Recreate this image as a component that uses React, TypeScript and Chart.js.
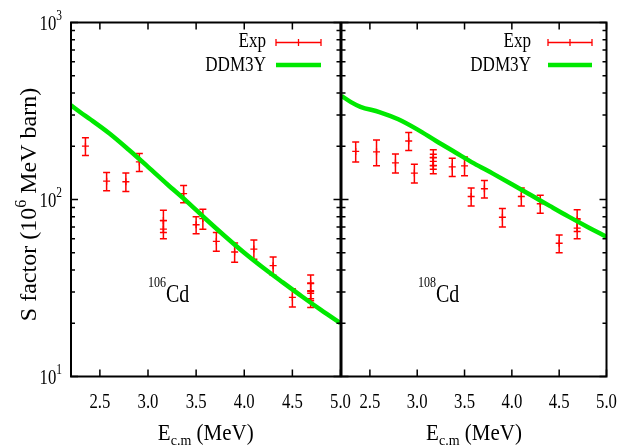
import { useEffect, useRef } from "react";
import { Chart, registerables } from "chart.js";

Chart.register(...registerables);

// ---------- data ----------
const energy106 = [2.35, 2.57, 2.77, 2.91, 3.16, 3.16, 3.37, 3.5, 3.57, 3.71, 3.9, 4.1, 4.3, 4.5, 4.69, 4.69, 4.69];
const sFactor106 = [200, 127, 126, 163, 76, 68, 108, 72, 78, 58, 50.5, 52.5, 42.3, 28, 33.5, 30.3, 27.5];
const error106 = [23, 15, 15, 19, 11, 8, 12, 8, 10, 7, 6.3, 6.5, 5, 3.3, 4, 3.5, 3];

const energy108 = [2.35, 2.57, 2.77, 2.91, 2.97, 3.17, 3.17, 3.17, 3.37, 3.5, 3.57, 3.71, 3.9, 4.1, 4.3, 4.5, 4.69, 4.69];
const sFactor108 = [187, 186, 161, 214, 141, 173, 164, 156, 153, 155, 104, 115, 79.4, 104, 94.6, 56.6, 76.7, 68.9];
const error108 = [24, 31, 20, 25, 17, 18, 16, 16, 18, 19, 12, 13, 9.5, 12, 11, 6.5, 10.8, 8.9];

const curveEnergy = [2.2, 2.3, 2.4, 2.6, 2.8, 3.0, 3.2, 3.4, 3.6, 3.8, 4.0, 4.2, 4.4, 4.6, 4.8, 5.0];
const ddm3y106 = [340, 310, 284, 236, 191, 153, 122, 98, 77.6, 62, 50, 41, 34, 28.3, 23.7, 20];
const ddm3y108 = [385, 355, 334, 312, 284, 249, 214, 185, 160, 140, 122, 106, 92, 80, 70, 61.6];

const xTickValues = [2.5, 3.0, 3.5, 4.0, 4.5, 5.0];
const yMajorTicks = [10, 100, 1000];
const yMajorExponents = ["1", "2", "3"];
const yMinorTicks = [20, 30, 40, 50, 60, 70, 80, 90, 200, 300, 400, 500, 600, 700, 800, 900];

const X_MIN = 2.2;
const X_MAX = 5.0;
const Y_MIN = 10;
const Y_MAX = 1000;

const FONT = '"Liberation Serif", "Times New Roman", Times, serif';
const RED = "#ff0000";
const GREEN = "#00e800";

type Seg = { t: string; size: number; dy?: number };

function drawRich(
  ctx: CanvasRenderingContext2D,
  segs: Seg[],
  x: number,
  y: number,
  align: "left" | "center" | "right",
  sx = 1,
  sy = 1,
  rot = 0
) {
  ctx.save();
  ctx.translate(x, y);
  if (rot) ctx.rotate(rot);
  ctx.scale(sx, sy);
  ctx.textAlign = "left";
  ctx.textBaseline = "alphabetic";
  ctx.fillStyle = "#000";
  let total = 0;
  const widths = segs.map((s) => {
    ctx.font = `${s.size}px ${FONT}`;
    const w = ctx.measureText(s.t).width;
    total += w;
    return w;
  });
  let cx = align === "left" ? 0 : align === "center" ? -total / 2 : -total;
  segs.forEach((s, i) => {
    ctx.font = `${s.size}px ${FONT}`;
    ctx.fillText(s.t, cx, s.dy || 0);
    cx += widths[i];
  });
  ctx.restore();
}

type PanelCfg = {
  left: number;
  right: number;
  energy: number[];
  sFactor: number[];
  error: number[];
  curve: number[];
  isotope: string;
  isoX: number;
  legendTextRight: number;
  legendStart: number;
  legendEnd: number;
  showYLabels: boolean;
};

const TOP = 22.5;
const BOTTOM = 376.5;

const leftCfg: PanelCfg = {
  left: 71,
  right: 340.5,
  energy: energy106,
  sFactor: sFactor106,
  error: error106,
  curve: ddm3y106,
  isotope: "106",
  isoX: 148,
  legendTextRight: 266,
  legendStart: 276,
  legendEnd: 321,
  showYLabels: true,
};

const rightCfg: PanelCfg = {
  left: 341.5,
  right: 606.5,
  energy: energy108,
  sFactor: sFactor108,
  error: error108,
  curve: ddm3y108,
  isotope: "108",
  isoX: 418,
  legendTextRight: 531,
  legendStart: 548,
  legendEnd: 592,
  showYLabels: false,
};

function makePlugin(cfg: PanelCfg) {
  return {
    id: "panelDecor",
    beforeDatasetsDraw(chart: any) {
      const ctx: CanvasRenderingContext2D = chart.ctx;
      const xs = chart.scales.x;
      const ys = chart.scales.y;
      const ca = chart.chartArea;
      ctx.save();
      ctx.beginPath();
      ctx.rect(ca.left, ca.top, ca.right - ca.left, ca.bottom - ca.top);
      ctx.clip();
      ctx.strokeStyle = RED;
      ctx.lineWidth = 1.5;
      const data = chart.data.datasets[1].data as any[];
      data.forEach((d) => {
        const px = xs.getPixelForValue(d.x);
        const top = ys.getPixelForValue(d.y + d.err);
        const bot = ys.getPixelForValue(d.y - d.err);
        ctx.beginPath();
        ctx.moveTo(px, top);
        ctx.lineTo(px, bot);
        ctx.moveTo(px - 3.5, top);
        ctx.lineTo(px + 3.5, top);
        ctx.moveTo(px - 3.5, bot);
        ctx.lineTo(px + 3.5, bot);
        ctx.stroke();
      });
      ctx.restore();
    },
    afterDraw(chart: any) {
      const ctx: CanvasRenderingContext2D = chart.ctx;
      const xs = chart.scales.x;
      const ys = chart.scales.y;
      const ca = chart.chartArea;
      ctx.save();
      // ticks
      ctx.strokeStyle = "#000";
      ctx.lineWidth = 1.5;
      ctx.beginPath();
      xTickValues.forEach((v) => {
        const px = xs.getPixelForValue(v);
        ctx.moveTo(px, ca.bottom);
        ctx.lineTo(px, ca.bottom - 7);
        ctx.moveTo(px, ca.top);
        ctx.lineTo(px, ca.top + 7);
      });
      yMajorTicks.forEach((v) => {
        const py = ys.getPixelForValue(v);
        ctx.moveTo(ca.left, py);
        ctx.lineTo(ca.left + 7, py);
        ctx.moveTo(ca.right, py);
        ctx.lineTo(ca.right - 7, py);
      });
      yMinorTicks.forEach((v) => {
        const py = ys.getPixelForValue(v);
        ctx.moveTo(ca.left, py);
        ctx.lineTo(ca.left + 4, py);
        ctx.moveTo(ca.right, py);
        ctx.lineTo(ca.right - 4, py);
      });
      ctx.stroke();
      // frame
      ctx.lineWidth = 2;
      ctx.strokeRect(ca.left, ca.top, ca.right - ca.left, ca.bottom - ca.top);
      ctx.restore();

      // x tick labels
      xTickValues.forEach((v) => {
        const px = xs.getPixelForValue(v);
        drawRich(ctx, [{ t: v.toFixed(1), size: 22 }], px, 408, "center", 0.76);
      });
      // y tick labels
      if (cfg.showYLabels) {
        yMajorTicks.forEach((v, i) => {
          const py = ys.getPixelForValue(v);
          drawRich(
            ctx,
            [
              { t: "10", size: 22 },
              { t: yMajorExponents[i], size: 15, dy: -10 },
            ],
            62,
            py + 7.5,
            "right",
            0.76
          );
        });
        drawRich(
          ctx,
          [
            { t: "S factor (10", size: 24 },
            { t: "6", size: 16, dy: -10 },
            { t: " MeV barn)", size: 24 },
          ],
          36,
          (ca.top + ca.bottom) / 2 + 5,
          "center",
          1,
          1,
          -Math.PI / 2
        );
      }
      // x title
      drawRich(
        ctx,
        [
          { t: "E", size: 21 },
          { t: "c.m", size: 14, dy: 5 },
          { t: " (MeV)", size: 21 },
        ],
        (ca.left + ca.right) / 2,
        440,
        "center",
        1,
        1.08
      );
      // isotope label
      drawRich(
        ctx,
        [
          { t: cfg.isotope, size: 15, dy: -15 },
          { t: "Cd", size: 25 },
        ],
        cfg.isoX,
        302,
        "left",
        0.8
      );
      // legend
      drawRich(ctx, [{ t: "Exp", size: 19 }], cfg.legendTextRight, 47, "right", 0.9, 1.05);
      drawRich(ctx, [{ t: "DDM3Y", size: 19 }], cfg.legendTextRight, 71, "right", 0.9, 1.05);
      ctx.save();
      ctx.strokeStyle = RED;
      ctx.lineWidth = 1.3;
      const ly = 42.5;
      const mid = (cfg.legendStart + cfg.legendEnd) / 2;
      ctx.beginPath();
      ctx.moveTo(cfg.legendStart, ly);
      ctx.lineTo(cfg.legendEnd, ly);
      ctx.moveTo(cfg.legendStart, ly - 3.5);
      ctx.lineTo(cfg.legendStart, ly + 3.5);
      ctx.moveTo(cfg.legendEnd, ly - 3.5);
      ctx.lineTo(cfg.legendEnd, ly + 3.5);
      ctx.moveTo(mid, ly - 3.5);
      ctx.lineTo(mid, ly + 3.5);
      ctx.stroke();
      ctx.strokeStyle = GREEN;
      ctx.lineWidth = 4.5;
      ctx.beginPath();
      ctx.moveTo(cfg.legendStart, 65);
      ctx.lineTo(cfg.legendEnd, 65);
      ctx.stroke();
      ctx.restore();
    },
  };
}

function Panel({ cfg }: { cfg: PanelCfg }) {
  const ref = useRef<HTMLCanvasElement>(null);
  useEffect(() => {
    const canvas = ref.current!;
    const chart = new Chart(canvas, {
      type: "scatter",
      data: {
        datasets: [
          {
            type: "line",
            label: "DDM3Y",
            data: curveEnergy.map((x, i) => ({ x, y: cfg.curve[i] })),
            borderColor: GREEN,
            borderWidth: 4.5,
            pointRadius: 0,
            showLine: true,
            cubicInterpolationMode: "monotone",
            clip: 0,
          } as any,
          {
            label: "Exp",
            data: cfg.energy.map((x, i) => ({ x, y: cfg.sFactor[i], err: cfg.error[i] })),
            pointStyle: "cross",
            pointRadius: 3.5,
            borderColor: RED,
            backgroundColor: RED,
            borderWidth: 1.3,
            showLine: false,
          } as any,
        ],
      },
      options: {
        responsive: false,
        animation: false,
        devicePixelRatio: 1,
        events: [],
        layout: { padding: { left: 0, right: 629 - cfg.right, top: TOP, bottom: 0 } },
        plugins: { legend: { display: false }, tooltip: { enabled: false } },
        scales: {
          x: {
            type: "linear",
            min: X_MIN,
            max: X_MAX,
            grid: { display: false },
            border: { display: false },
            ticks: { display: false },
            afterFit: (s: any) => {
              s.height = 447 - BOTTOM;
            },
          },
          y: {
            type: "logarithmic",
            min: Y_MIN,
            max: Y_MAX,
            grid: { display: false },
            border: { display: false },
            ticks: { display: false },
            afterFit: (s: any) => {
              s.width = cfg.left;
            },
          },
        },
      } as any,
      plugins: [makePlugin(cfg)],
    });
    return () => chart.destroy();
  }, [cfg]);
  return (
    <canvas
      ref={ref}
      width={629}
      height={447}
      style={{ position: "absolute", left: 0, top: 0, width: 629, height: 447 }}
    />
  );
}

export default function App() {
  return (
    <div
      style={{
        position: "fixed",
        left: 0,
        top: 0,
        width: 629,
        height: 447,
        background: "#ffffff",
        overflow: "hidden",
      }}
    >
      <Panel cfg={leftCfg} />
      <Panel cfg={rightCfg} />
    </div>
  );
}
